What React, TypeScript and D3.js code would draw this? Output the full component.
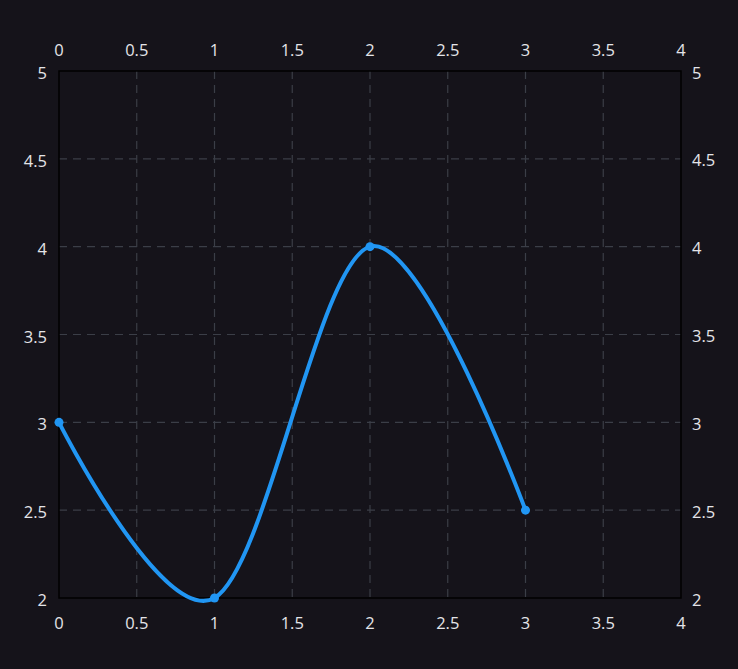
import * as d3 from "d3";

const xs = [0, 1, 2, 3];
const ys = [3, 2, 4, 2.5];
const xTicks = [0, 0.5, 1, 1.5, 2, 2.5, 3, 3.5, 4];
const yTicks = [2, 2.5, 3, 3.5, 4, 4.5, 5];

export default function App({
  width = 738,
  height = 669,
  marginTop = 71,
  marginRight = 57,
  marginBottom = 71,
  marginLeft = 59,
}) {
  const scaleX = d3.scaleLinear([0, 4], [marginLeft, width - marginRight]);
  const scaleY = d3.scaleLinear([2, 5], [height - marginBottom, marginTop]);

  const l = d3
    .line<number>((d, i) => scaleX(xs[i]), (d) => scaleY(d))
    .curve(d3.curveCardinal.tension(0));

  const font = "'Open Sans', 'Noto Sans', sans-serif";
  const textColor = "#e4e4e8";
  const gridColor = "#3b3e47";

  return (
    <svg
      width={width}
      height={height}
      style={{ position: "fixed", left: 0, top: 0, background: "#15131a" }}
    >
      <rect width={width} height={height} fill="#15131a" />
      <g stroke={gridColor} strokeWidth={1.2} strokeDasharray="8 6">
        {xTicks.slice(1, -1).map((t) => (
          <line key={"gx" + t} x1={scaleX(t)} x2={scaleX(t)} y1={scaleY(5)} y2={scaleY(2)} />
        ))}
        {yTicks.slice(1, -1).map((t) => (
          <line key={"gy" + t} x1={scaleX(0)} x2={scaleX(4)} y1={scaleY(t)} y2={scaleY(t)} />
        ))}
      </g>
      <rect
        x={scaleX(0)}
        y={scaleY(5)}
        width={scaleX(4) - scaleX(0)}
        height={scaleY(2) - scaleY(5)}
        fill="none"
        stroke="#000"
        strokeWidth={1.5}
      />
      <g fill={textColor} fontFamily={font} fontSize={16.5} textAnchor="middle">
        {xTicks.map((t) => (
          <text key={"tx" + t} x={scaleX(t)} y={scaleY(5) - 15}>
            {t}
          </text>
        ))}
        {xTicks.map((t) => (
          <text key={"bx" + t} x={scaleX(t)} y={scaleY(2) + 31}>
            {t}
          </text>
        ))}
      </g>
      <g fill={textColor} fontFamily={font} fontSize={16.5} dominantBaseline="central">
        {yTicks.map((t) => (
          <text key={"ly" + t} x={scaleX(0) - 12} y={scaleY(t) + 1}>
            <tspan textAnchor="end">{t}</tspan>
          </text>
        ))}
        {yTicks.map((t) => (
          <text key={"ry" + t} x={scaleX(4) + 11} y={scaleY(t) + 1} textAnchor="start">
            {t}
          </text>
        ))}
      </g>
      <path fill="none" stroke="#2196f3" strokeWidth={4} d={l(ys) ?? ""} />
      <g fill="#2196f3">
        {ys.map((d, i) => (
          // biome-ignore lint/suspicious/noArrayIndexKey: fixed data
          <circle key={i} cx={scaleX(xs[i])} cy={scaleY(d)} r={4.5} />
        ))}
      </g>
    </svg>
  );
}
